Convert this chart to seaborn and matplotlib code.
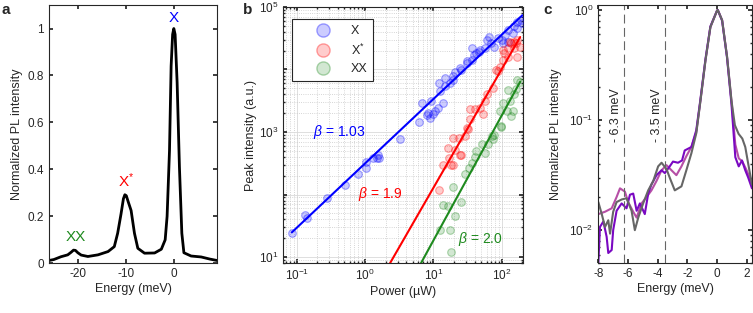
import numpy as np
import pandas as pd
import matplotlib
matplotlib.use("Agg")
import matplotlib.pyplot as plt
from matplotlib.lines import Line2D
from matplotlib.colors import to_rgba
from matplotlib.ticker import LogLocator, NullFormatter
import seaborn as sns

# ---- panel a: PL spectrum (energy in meV, normalized intensity)
spec_E = [-26.0, -25.0, -23.5, -22.1, -21.4, -20.9, -20.5, -20.0, -19.3, -17.9, -15.8,
          -13.7, -12.4, -11.7, -11.0, -10.5, -10.2, -9.9, -9.5, -8.9, -8.2, -7.5,
          -6.1, -4.0, -2.6, -1.8, -1.4, -0.9, -0.56, -0.25, 0.0, 0.27, 0.69, 1.17,
          1.67, 2.1, 3.6, 5.7, 7.5, 9.0]
spec_I = [0.012, 0.016, 0.028, 0.036, 0.047, 0.056, 0.055, 0.045, 0.035, 0.029, 0.036,
          0.050, 0.071, 0.128, 0.210, 0.275, 0.292, 0.288, 0.262, 0.225, 0.128, 0.064,
          0.043, 0.044, 0.060, 0.100, 0.200, 0.480, 0.840, 0.975, 1.0, 0.975, 0.77, 0.41,
          0.128, 0.045, 0.031, 0.027, 0.018, 0.012]
peak_names = ["X", "X$^{*}$", "XX"]
peak_E = [0.0, -10.0, -20.4]
peak_I = [1.045, 0.35, 0.112]
peak_colors = ["#0000ff", "#ff0000", "#1e8a1e"]

# ---- panel b: peak intensity vs power (log10 values)
logP_X = [-1.07, -0.88, -0.85, -0.56, -0.30, -0.11, 0.01, 0.015, 0.11, 0.17, 0.21, 0.19,
          0.51, 0.79, 0.83, 0.90, 0.95, 1.00, 0.92, 1.02, 1.07, 0.97, 1.09, 1.08, 1.14,
          1.17, 1.17, 1.24, 1.29, 1.31, 1.29, 1.39, 1.41, 1.49, 1.49, 1.56, 1.56, 1.59,
          1.63, 1.66, 1.68, 1.75, 1.78, 1.82, 1.84, 1.89, 1.95, 2.00, 2.02, 2.05, 2.09,
          2.09, 2.16, 2.18, 2.23, 2.23, 2.28, 2.30]
logI_X = [1.38, 1.67, 1.62, 1.94, 2.15, 2.33, 2.43, 2.52, 2.59, 2.58, 2.58, 2.64,
          2.89, 3.16, 3.47, 3.27, 3.23, 3.28, 3.31, 3.34, 3.39, 3.50, 3.66, 3.79, 3.47,
          3.73, 3.86, 3.78, 3.90, 3.96, 3.83, 4.02, 3.99, 4.10, 4.13, 4.15, 4.34, 4.23,
          4.26, 4.28, 4.31, 4.34, 4.47, 4.52, 4.42, 4.36, 4.50, 4.47, 4.42, 4.55, 4.44,
          4.63, 4.58, 4.69, 4.76, 4.66, 4.79, 4.74]
logP_Xs = [1.085, 1.14, 1.23, 1.29, 1.22, 1.29, 1.39, 1.37, 1.26, 1.31, 1.41, 1.46,
           1.49, 1.51, 1.53, 1.53, 1.61, 1.68, 1.73, 1.75, 1.78, 1.87, 1.92, 1.95, 1.97,
           2.02, 2.02, 2.04, 2.09, 2.09, 2.12, 2.14, 2.18, 2.18, 2.21, 2.23, 2.23, 2.26]
logI_Xs = [2.08, 2.48, 2.59, 2.48, 2.75, 2.91, 2.64, 2.91, 2.48, 2.72, 2.64, 2.94,
           3.07, 3.04, 3.20, 3.36, 3.36, 3.39, 3.28, 3.50, 3.61, 3.71, 3.99, 3.98, 4.04,
           4.15, 4.31, 4.26, 4.20, 4.34, 4.44, 4.42, 4.44, 4.34, 4.42, 4.47, 4.20, 4.36]
logP_XX = [1.26, 1.09, 1.24, 1.14, 1.22, 1.41, 1.31, 1.29, 1.46, 1.52, 1.56, 1.61,
           1.63, 1.71, 1.75, 1.80, 1.85, 1.87, 1.89, 1.99, 1.99, 1.97, 2.02, 2.07, 2.09,
           2.12, 2.14, 2.16, 2.18, 2.21, 2.23, 2.26]
logI_XX = [1.08, 1.44, 1.44, 1.84, 1.82, 1.88, 1.66, 2.12, 2.33, 2.43, 2.51, 2.60,
           2.70, 2.81, 2.66, 2.81, 2.94, 2.88, 2.95, 3.08, 3.10, 3.34, 3.47, 3.34, 3.67,
           3.50, 3.26, 3.34, 3.61, 3.69, 3.83, 3.80]

# power-law fits I = A * P^beta
fit_beta = [1.03, 1.9, 2.0]
fit_logA = [2.497, 0.207, -0.735]
fit_Pmin = [0.085, 1.5, 4.0]
fit_Pmax = [200.0, 186.0, 186.0]
beta_text = ["$\\beta$ = 1.03", "$\\beta$ = 1.9", "$\\beta$ = 2.0"]
beta_pos = [(0.174, 1000), (0.79, 102), (22.8, 19.6)]

# ---- panel c: normalized spectra, log scale
gray_E = [-8.0, -7.77, -7.55, -7.33, -7.21, -7.0, -6.77, -6.43, -6.1, -5.76, -5.54,
          -5.31, -4.98, -4.64, -4.3, -3.97, -3.74, -3.41, -3.19, -2.85, -2.4, -2.07,
          -1.73, -1.4, -1.12, -0.78, -0.45, 0.0, 0.05, 0.34, 0.67, 0.97, 1.2, 1.45,
          1.7, 1.9, 2.1, 2.35]
gray_I = [0.018, 0.014, 0.0107, 0.0123, 0.0093, 0.0147, 0.018, 0.019, 0.0195, 0.015,
          0.010, 0.013, 0.0175, 0.023, 0.028, 0.038, 0.041, 0.036, 0.030, 0.023, 0.025,
          0.035, 0.050, 0.076, 0.15, 0.35, 0.70, 0.99, 1.0, 0.81, 0.38, 0.15, 0.09,
          0.075, 0.068, 0.057, 0.04, 0.026]
purple_E = [-8.0, -7.89, -7.66, -7.44, -7.33, -7.1, -7.0, -6.77, -6.43, -6.1, -5.87,
            -5.65, -5.42, -5.2, -4.87, -4.64, -4.42, -4.08, -3.74, -3.52, -3.19, -2.97,
            -2.63, -2.36, -2.18, -1.73, -1.4, -1.12, -0.78, -0.45, 0.0, 0.05, 0.34,
            0.67, 0.97, 1.23, 1.46, 1.68, 1.9, 2.1, 2.35]
purple_I = [0.005, 0.0107, 0.012, 0.0087, 0.0062, 0.0066, 0.010, 0.015, 0.0175,
            0.0158, 0.021, 0.0215, 0.015, 0.0175, 0.014, 0.0215, 0.026, 0.0316, 0.035,
            0.033, 0.038, 0.042, 0.041, 0.043, 0.053, 0.057, 0.081, 0.155, 0.36, 0.71,
            0.99, 1.0, 0.80, 0.37, 0.14, 0.046, 0.038, 0.043, 0.035, 0.03, 0.024]
pink_E = [-8.0, -7.55, -7.1, -6.77, -6.54, -6.21, -5.99, -5.65, -5.42, -5.09, -4.75,
          -4.42, -4.08, -3.74, -3.41, -3.07, -2.74, -2.4, -2.07, -1.73, -1.4, -1.12,
          -0.78, -0.45, 0.0, 0.05, 0.34, 0.67, 0.97, 1.23, 1.46, 1.7, 1.95, 2.2, 2.35]
pink_I = [0.014, 0.0147, 0.0158, 0.020, 0.024, 0.0224, 0.018, 0.0147, 0.013, 0.0175,
          0.020, 0.023, 0.028, 0.035, 0.039, 0.035, 0.0316, 0.038, 0.047, 0.057, 0.078,
          0.15, 0.35, 0.70, 0.99, 1.0, 0.81, 0.38, 0.15, 0.06, 0.045, 0.042, 0.036,
          0.03, 0.026]
c_colors = ["#b64fa6", "#7a08c2", "#666666"]
vline_E = [-6.3, -3.5]
vline_text = ["- 6.3 meV", "- 3.5 meV"]


sns.set_theme(style="ticks")
plt.rcParams["font.family"] = ["Liberation Sans", "DejaVu Sans"]
plt.rcParams["mathtext.fontset"] = "custom"
plt.rcParams["mathtext.rm"] = "Liberation Sans"
plt.rcParams["mathtext.it"] = "Liberation Sans:italic"
plt.rcParams["axes.edgecolor"] = "#262626"
plt.rcParams["axes.linewidth"] = 0.8
plt.rcParams["xtick.direction"] = "in"
plt.rcParams["ytick.direction"] = "in"
plt.rcParams["xtick.top"] = True
plt.rcParams["ytick.right"] = True
plt.rcParams["xtick.labelsize"] = 8.5
plt.rcParams["ytick.labelsize"] = 8.5
plt.rcParams["axes.labelsize"] = 9
plt.rcParams["xtick.color"] = "#262626"
plt.rcParams["ytick.color"] = "#262626"
plt.rcParams["xtick.major.size"] = 3
plt.rcParams["ytick.major.size"] = 3
plt.rcParams["xtick.minor.size"] = 1.6
plt.rcParams["ytick.minor.size"] = 1.6

fig = plt.figure(figsize=(7.53, 3.13), dpi=100)
ax_a = fig.add_axes([0.0651, 0.1588, 0.2231, 0.825])
ax_b = fig.add_axes([0.3758, 0.1588, 0.3187, 0.819])
ax_c = fig.add_axes([0.7946, 0.1588, 0.2040, 0.825])

# ---- a
sns.lineplot(x=spec_E, y=spec_I, ax=ax_a, color="black", lw=2.0, sort=False)
for name, e, i, c in zip(peak_names, peak_E, peak_I, peak_colors):
    ax_a.text(e, i, name, color=c, fontsize=11, ha="center", va="center")
ax_a.set_xlim(-26, 9)
ax_a.set_ylim(0, 1.1)
ax_a.set_xticks([-20, -10, 0])
ax_a.set_xticklabels(["-20", "-10", "0"])
ax_a.set_yticks([0, 0.2, 0.4, 0.6, 0.8, 1.0])
ax_a.set_yticklabels(["0", "0.2", "0.4", "0.6", "0.8", "1"])
ax_a.set_xlabel("Energy (meV)", labelpad=2)
ax_a.set_ylabel("Normalized PL intensity", labelpad=3)

# ---- b
frames = []
for name, lp, li in [("X", logP_X, logI_X), ("X*", logP_Xs, logI_Xs), ("XX", logP_XX, logI_XX)]:
    frames.append(pd.DataFrame({"P": np.power(10.0, lp), "I": np.power(10.0, li), "s": name}))
df_b = pd.concat(frames)
pal = {"X": peak_colors[0], "X*": peak_colors[1], "XX": peak_colors[2]}
ax_b.set_xscale("log")
ax_b.set_yscale("log")
ax_b.grid(True, which="major", color="#d9d9d9", lw=0.6, ls="-")
ax_b.grid(True, which="minor", color="#c8c8c8", lw=0.6, ls=":")
ax_b.set_axisbelow(True)
for name in ["X", "X*", "XX"]:
    sub = df_b[df_b["s"] == name]
    ax_b.scatter(sub["P"], sub["I"], s=30, facecolor=to_rgba(pal[name], 0.2),
                 edgecolor=to_rgba(pal[name], 0.35), lw=0.8, zorder=3)
for k, c in enumerate(peak_colors):
    P = np.array([fit_Pmin[k], fit_Pmax[k]])
    I = np.power(10.0, fit_logA[k]) * P ** fit_beta[k]
    sns.lineplot(x=P, y=I, ax=ax_b, color=c, lw=1.5, zorder=4)
    ax_b.text(beta_pos[k][0], beta_pos[k][1], beta_text[k], color=c, fontsize=10,
              ha="left", va="center")
ax_b.set_xlim(10 ** -1.2, 10 ** 2.31)
ax_b.set_ylim(10 ** 0.9, 1e5)
ax_b.xaxis.set_major_locator(LogLocator(base=10, numticks=10))
ax_b.xaxis.set_minor_locator(LogLocator(base=10, subs=np.arange(2, 10), numticks=20))
ax_b.xaxis.set_minor_formatter(NullFormatter())
ax_b.set_yticks([1e1, 1e2, 1e3, 1e4, 1e5])
ax_b.set_yticklabels(["$10^{1}$", "", "$10^{3}$", "", "$10^{5}$"])
ax_b.yaxis.set_minor_locator(LogLocator(base=10, subs=np.arange(2, 10), numticks=20))
ax_b.yaxis.set_minor_formatter(NullFormatter())
ax_b.set_xlabel("Power (µW)", labelpad=2)
ax_b.set_ylabel("Peak intensity (a.u.)", labelpad=1)
handles = [Line2D([], [], ls="", marker="o", markersize=9.5,
                  markerfacecolor=to_rgba(c, 0.2), markeredgecolor=to_rgba(c, 0.35))
           for c in peak_colors]
leg = ax_b.legend(handles, peak_names, loc="upper left", bbox_to_anchor=(0.036, 0.952),
                  borderaxespad=0, fancybox=False, framealpha=1, edgecolor="#262626",
                  fontsize=9, handletextpad=0.1, borderpad=0.45, labelspacing=0.45,
                  handlelength=4.2)
leg.get_frame().set_linewidth(0.8)

# ---- c
ax_c.set_yscale("log")
for E, I, c in [(pink_E, pink_I, c_colors[0]), (purple_E, purple_I, c_colors[1]),
                (gray_E, gray_I, c_colors[2])]:
    sns.lineplot(x=E, y=I, ax=ax_c, color=c, lw=1.5, sort=False)
for e, t in zip(vline_E, vline_text):
    ax_c.axvline(e, color="#666666", lw=0.8, ls=(0, (8, 4)))
    ax_c.text(e - 0.12, 0.063, t, rotation=90, ha="right", va="bottom", fontsize=9)
ax_c.set_xlim(-8, 2.35)
ax_c.set_ylim(0.005, 1.11)
ax_c.set_xticks([-8, -6, -4, -2, 0, 2])
ax_c.set_xticklabels(["-8", "-6", "-4", "-2", "0", "2"])
ax_c.set_yticks([1e-2, 1e-1, 1e0])
ax_c.yaxis.set_minor_locator(LogLocator(base=10, subs=np.arange(2, 10), numticks=20))
ax_c.yaxis.set_minor_formatter(NullFormatter())
ax_c.set_xlabel("Energy (meV)", labelpad=2)
ax_c.set_ylabel("Normalized PL intensity", labelpad=5)

for ax in (ax_a, ax_b, ax_c):
    for sp in ax.spines.values():
        sp.set_visible(True)

fig.text(0.002, 0.955, "a", fontsize=11, fontweight="bold", va="baseline")
fig.text(0.322, 0.955, "b", fontsize=11, fontweight="bold", va="baseline")
fig.text(0.721, 0.955, "c", fontsize=11, fontweight="bold", va="baseline")

fig.savefig("out.png", dpi=100)
